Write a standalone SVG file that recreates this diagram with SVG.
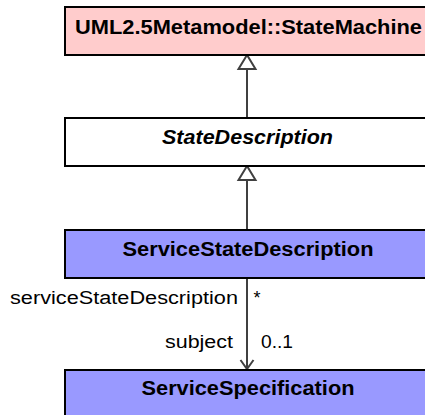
<svg xmlns="http://www.w3.org/2000/svg" width="425" height="415" viewBox="0 0 425 415">
<style>
.box{stroke:#000;stroke-width:2}
.name{font-family:"Liberation Sans",Arial,sans-serif;font-size:19.5px;font-weight:bold;text-anchor:middle;fill:#000}
.lbl{font-family:"Liberation Sans",Arial,sans-serif;font-size:18.8px;fill:#000}
.conn{stroke:#404040;stroke-width:2;fill:none}
</style>
<rect width="425" height="415" fill="#fff"/>
<g id="connectors">
<line class="conn" x1="247" y1="69" x2="247" y2="118"/>
<polygon points="247,55 238.5,69 255.5,69" fill="#fff" stroke="#404040" stroke-width="2"/>
<line class="conn" x1="247" y1="180" x2="247" y2="230"/>
<polygon points="247,166 238.5,180 255.5,180" fill="#fff" stroke="#404040" stroke-width="2"/>
<line class="conn" x1="247" y1="278" x2="247" y2="369"/>
<polyline class="conn" points="240.5,360 247,369 253.5,360"/>
<text class="lbl" x="10" y="304" textLength="228" lengthAdjust="spacingAndGlyphs">serviceStateDescription</text>
<text class="lbl" x="253.5" y="303.5" textLength="7" lengthAdjust="spacingAndGlyphs">*</text>
<text class="lbl" x="165" y="348" textLength="68" lengthAdjust="spacingAndGlyphs">subject</text>
<text class="lbl" x="261" y="347.5" textLength="32" lengthAdjust="spacingAndGlyphs">0..1</text>
</g>
<g id="StateMachine">
<rect class="box" x="65" y="7" width="364" height="48" fill="#FFCCCC"/>
<text class="name" x="248.5" y="33.5" textLength="347" lengthAdjust="spacingAndGlyphs">UML2.5Metamodel::StateMachine</text>
</g>
<g id="StateDescription">
<rect class="box" x="65" y="118" width="364" height="48" fill="#FFFFFF"/>
<text class="name" x="247.5" y="143.5" font-style="italic" textLength="171" lengthAdjust="spacingAndGlyphs">StateDescription</text>
</g>
<g id="ServiceStateDescription">
<rect class="box" x="65" y="230" width="364" height="48" fill="#9999FF"/>
<text class="name" x="248" y="256" textLength="251" lengthAdjust="spacingAndGlyphs">ServiceStateDescription</text>
</g>
<g id="ServiceSpecification">
<rect class="box" x="65" y="370" width="364" height="60" fill="#9999FF"/>
<text class="name" x="248" y="395" textLength="213" lengthAdjust="spacingAndGlyphs">ServiceSpecification</text>
</g>
</svg>
